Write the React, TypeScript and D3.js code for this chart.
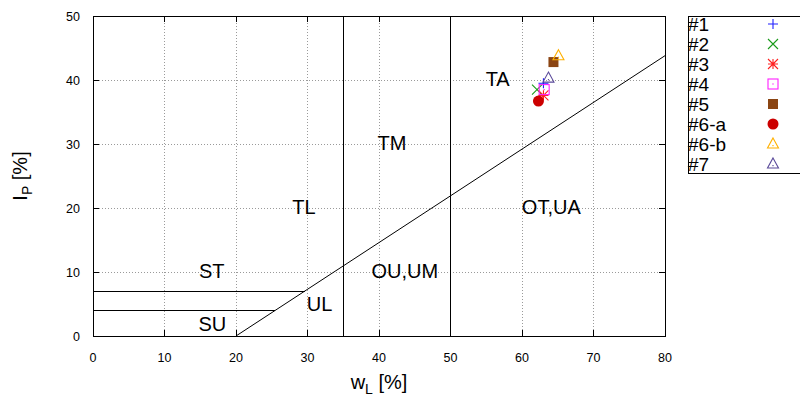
import React from "react";
import * as d3 from "d3";

// sample names and their (wL, IP) values
const names = ["#1", "#2", "#3", "#4", "#5", "#6-a", "#6-b", "#7"];
const wL = [63.0, 62.1, 63.0, 63.1, 64.4, 62.3, 65.1, 63.7];
const IP = [39.5, 38.5, 37.6, 38.5, 42.8, 36.7, 43.8, 40.3];
const colors = ["#1f1fff", "#1a9a1a", "#ff2020", "#ff20ff", "#8b4513", "#cc0000", "#ffb000", "#5a4a9a"];
const shapes = ["plus", "times", "star", "box", "fbox", "fcircle", "tri", "tri"];

const xTicks = [0, 10, 20, 30, 40, 50, 60, 70, 80];
const yTicks = [0, 10, 20, 30, 40, 50];

// Casagrande plasticity chart: A-line IP = 0.73 (wL - 20)
const aLine: [number, number][] = [[20, 0], [80, 0.73 * 60]];
const stLine: [number, number][] = [[0, 7], [20 + 7 / 0.73, 7]];
const suLine: [number, number][] = [[0, 4], [20 + 4 / 0.73, 4]];
const vLines = [35, 50];

const zoneNames = ["TA", "TM", "TL", "OT,UA", "ST", "OU,UM", "UL", "SU"];
const zoneX = [56.6, 41.8, 29.5, 64.1, 16.6, 43.6, 31.7, 16.7];
const zoneY = [40.2, 30.2, 20.2, 20.2, 10.2, 10.2, 5.0, 1.9];

const W = 800;
const H = 398;
const margin = { top: 16, right: 135, bottom: 62, left: 93 };
const font = "'Liberation Sans', Arial, sans-serif";

const Marker = ({ shape, color, x, y }: { shape: string; color: string; x: number; y: number }) => {
  const r = 5;
  const sw = 1.1;
  if (shape === "plus")
    return <path d={`M${x - r},${y}H${x + r}M${x},${y - r}V${y + r}`} stroke={color} strokeWidth={sw} />;
  if (shape === "times")
    return <path d={`M${x - r},${y - r}L${x + r},${y + r}M${x - r},${y + r}L${x + r},${y - r}`} stroke={color} strokeWidth={sw} />;
  if (shape === "star")
    return (
      <path
        d={`M${x - r},${y}H${x + r}M${x},${y - r}V${y + r}M${x - r},${y - r}L${x + r},${y + r}M${x - r},${y + r}L${x + r},${y - r}`}
        stroke={color}
        strokeWidth={sw}
      />
    );
  if (shape === "box")
    return (
      <g>
        <rect x={x - r} y={y - r} width={2 * r} height={2 * r} fill="none" stroke={color} strokeWidth={sw} />
        <rect x={x - 0.6} y={y - 0.6} width={1.2} height={1.2} fill={color} />
      </g>
    );
  if (shape === "fbox") return <rect x={x - r} y={y - r} width={2 * r} height={2 * r} fill={color} />;
  if (shape === "fcircle") return <circle cx={x} cy={y} r={r + 0.5} fill={color} />;
  const tri = d3.line()([
    [x, y - r - 1],
    [x + r + 0.5, y + r - 1],
    [x - r - 0.5, y + r - 1],
  ]) + "Z";
  return (
    <g>
      <path d={tri} fill="none" stroke={color} strokeWidth={sw} />
      <rect x={x - 0.6} y={y + 1} width={1.2} height={1.2} fill={color} />
    </g>
  );
};

export default function App() {
  const x = d3.scaleLinear().domain([0, 80]).range([margin.left, W - margin.right]);
  const y = d3.scaleLinear().domain([0, 50]).range([H - margin.bottom, margin.top]);
  const line = d3.line<[number, number]>().x((d) => x(d[0])).y((d) => y(d[1]));
  const [x0, x1] = x.range();
  const [y0, y1] = y.range();

  const legX = 688;
  const legTop = 16;
  const legStep = 20;

  return (
    <svg width={W} height={H} style={{ position: "absolute", left: 0, top: 0, background: "#fff" }} fontFamily={font}>
      {/* grid */}
      <g stroke="#9a9a9a" strokeWidth={1} strokeDasharray="1,2" shapeRendering="crispEdges">
        {xTicks.slice(1, -1).map((t) => (
          <line key={"gx" + t} x1={x(t)} x2={x(t)} y1={y0} y2={y1} />
        ))}
        {yTicks.slice(1, -1).map((t) => (
          <line key={"gy" + t} x1={x0} x2={x1} y1={y(t)} y2={y(t)} />
        ))}
      </g>
      {/* tick marks, mirrored */}
      <g stroke="#000" strokeWidth={1} shapeRendering="crispEdges">
        {xTicks.map((t) => (
          <g key={"tx" + t}>
            <line x1={x(t)} x2={x(t)} y1={y0} y2={y0 - 6} />
            <line x1={x(t)} x2={x(t)} y1={y1} y2={y1 + 6} />
          </g>
        ))}
        {yTicks.map((t) => (
          <g key={"ty" + t}>
            <line x1={x0} x2={x0 + 6} y1={y(t)} y2={y(t)} />
            <line x1={x1} x2={x1 - 6} y1={y(t)} y2={y(t)} />
          </g>
        ))}
      </g>
      {/* classification boundaries */}
      <g fill="none" stroke="#000" strokeWidth={1}>
        <path d={line(aLine) || ""} />
        <path d={line(stLine) || ""} shapeRendering="crispEdges" />
        <path d={line(suLine) || ""} shapeRendering="crispEdges" />
        {vLines.map((v) => (
          <line key={"v" + v} x1={x(v)} x2={x(v)} y1={y0} y2={y1} shapeRendering="crispEdges" />
        ))}
      </g>
      {/* zone labels */}
      <g fontSize={20} textAnchor="middle" fill="#000">
        {zoneNames.map((n, i) => (
          <text key={n} x={x(zoneX[i])} y={y(zoneY[i])} dy="0.36em">
            {n}
          </text>
        ))}
      </g>
      {/* border */}
      <rect x={x0} y={y1} width={x1 - x0} height={y0 - y1} fill="none" stroke="#000" strokeWidth={1} shapeRendering="crispEdges" />
      {/* tick labels */}
      <g fontSize={12.5} fill="#000">
        {xTicks.map((t) => (
          <text key={"lx" + t} x={x(t)} y={y0 + 26} textAnchor="middle">
            {t}
          </text>
        ))}
        {yTicks.map((t) => (
          <text key={"ly" + t} x={x0 - 13} y={y(t)} dy="0.36em" textAnchor="end">
            {t}
          </text>
        ))}
      </g>
      {/* axis titles */}
      <text x={(x0 + x1) / 2} y={389} fontSize={20} textAnchor="middle">
        w<tspan fontSize={14} dy={5}>L</tspan>
        <tspan dy={-5}> [%]</tspan>
      </text>
      <text transform={`translate(27,${(y0 + y1) / 2}) rotate(-90)`} fontSize={20} textAnchor="middle">
        I<tspan fontSize={14} dy={5}>P</tspan>
        <tspan dy={-5}> [%]</tspan>
      </text>
      {/* data points */}
      {names.map((n, i) => (
        <Marker key={n} shape={shapes[i]} color={colors[i]} x={x(wL[i])} y={y(IP[i])} />
      ))}
      {/* legend */}
      <rect x={legX} y={legTop} width={140} height={legStep * names.length - 3} fill="#fff" stroke="#000" strokeWidth={1} shapeRendering="crispEdges" />
      {names.map((n, i) => (
        <g key={"leg" + n}>
          <text x={legX} y={legTop + 8 + legStep * i} dy="0.36em" fontSize={19}>
            {n}
          </text>
          <Marker shape={shapes[i]} color={colors[i]} x={773} y={legTop + 8 + legStep * i} />
        </g>
      ))}
    </svg>
  );
}
